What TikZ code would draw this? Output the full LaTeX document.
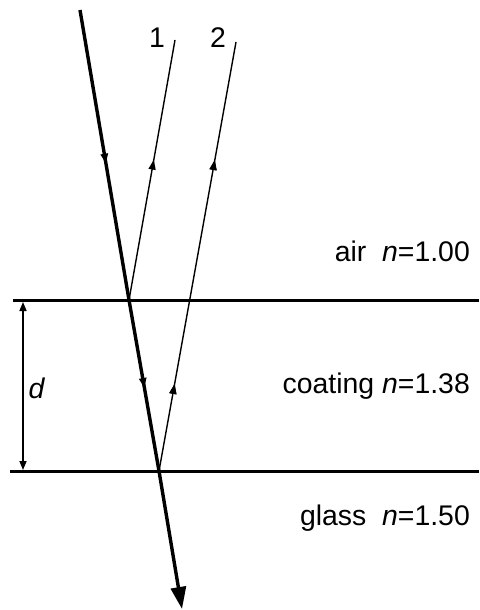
\documentclass[tikz,border=0pt]{standalone}
\usepackage{fontspec}
\setmainfont{Liberation Sans}
\usetikzlibrary{arrows.meta,decorations.markings}
\tikzset{
  ray/.style={line width=1.4pt},
  thickray/.style={line width=3.4pt},
  iface/.style={line width=3pt},
  midarrow/.style={postaction={decorate},decoration={markings,mark=at position #1 with {\arrow{Triangle[length=10pt,width=7pt]}}}},
  lbl/.style={font=\fontsize{28.4}{33}\selectfont, inner sep=0pt},
}
\begin{document}
\begin{tikzpicture}[x=1pt,y=-1pt]
\useasboundingbox (0,0) rectangle (479,610);
% interfaces
\coordinate (t1) at (13,300); \coordinate (t2) at (479,300);
\coordinate (b1) at (10,471); \coordinate (b2) at (479,471);
\draw[iface] (t1) -- (t2);
\draw[iface] (b1) -- (b2);
% ray points
\coordinate (S) at (80,10);
\coordinate (A) at (129,300);
\coordinate (B) at (159,471);
\coordinate (E) at (182,609);
\coordinate (R1) at (175,40);
\coordinate (R2) at (236,42);
% incident
\draw[thickray,midarrow=0.53] (S) -- (A);
% refracted
\draw[thickray,midarrow=0.285,-{Triangle[length=22pt,width=15pt]}] (A) -- (B) -- (E);
% reflected 1
\draw[ray,midarrow=0.54] (A) -- (R1);
% reflected 2
\draw[ray,midarrow=0.203,midarrow=0.725] (B) -- (R2);
% thickness
\coordinate (d1) at (23,302); \coordinate (d2) at (23,470);
\draw[line width=1.5pt,{Triangle[length=9pt,width=7pt]}-{Triangle[length=9pt,width=7pt]}] (d1) -- (d2);
\node[lbl] (dl) at (37,388) {\textit{d}};
% labels
\node[lbl,anchor=base] (l1) at (157,48) {1};
\node[lbl,anchor=base] (l2) at (218,48) {2};
\node[lbl,anchor=base east] (air) at (470,261) {air\ \ \textit{n}=1.00};
\node[lbl,anchor=base east] (coat) at (470,393) {coating \textit{n}=1.38};
\node[lbl,anchor=base east] (glass) at (470,525) {glass\ \ \textit{n}=1.50};
\end{tikzpicture}
\end{document}
